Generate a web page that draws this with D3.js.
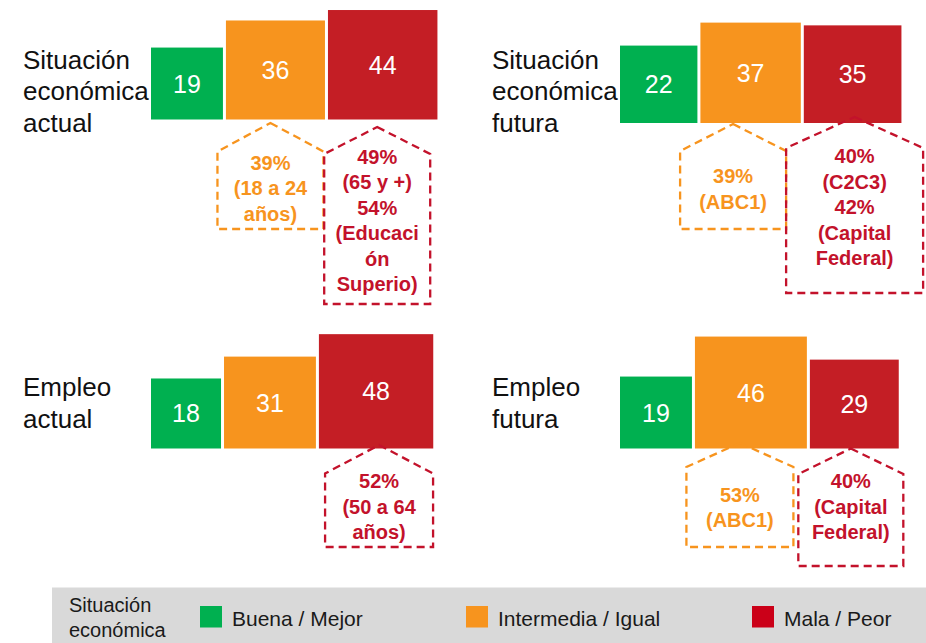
<!DOCTYPE html>
<html>
<head>
<meta charset="utf-8">
<script src="https://cdn.jsdelivr.net/npm/d3@7"></script>
<style>
  html, body { margin: 0; padding: 0; background: #ffffff; }
  svg { display: block; font-family: "Liberation Sans", Arial, Helvetica, sans-serif; }
</style>
</head>
<body>
<svg id="chart" width="926" height="643"></svg>
<script>
// ---------------- DATA ----------------
const categories = ["Buena / Mejor", "Intermedia / Igual", "Mala / Peor"];
const legendTitle = ["Situación", "económica"];

const panelNames = ["Situación económica actual", "Situación económica futura", "Empleo actual", "Empleo futura"];
const panelLabelLines = [
  ["Situación", "económica", "actual"],
  ["Situación", "económica", "futura"],
  ["Empleo", "actual"],
  ["Empleo", "futura"]
];

const valuesSituacionActual = [19, 36, 44];
const valuesSituacionFutura = [22, 37, 35];
const valuesEmpleoActual   = [18, 31, 48];
const valuesEmpleoFutura   = [19, 46, 29];

// callout texts per category (null = no callout)
const calloutsSituacionActual = [null, ["39%", "(18 a 24", "años)"], ["49%", "(65 y +)", "54%", "(Educaci", "ón", "Superio)"]];
const calloutsSituacionFutura = [null, ["39%", "(ABC1)"], ["40%", "(C2C3)", "42%", "(Capital", "Federal)"]];
const calloutsEmpleoActual   = [null, null, ["52%", "(50 a 64", "años)"]];
const calloutsEmpleoFutura   = [null, ["53%", "(ABC1)"], ["40%", "(Capital", "Federal)"]];

// ---------------- STYLE / LAYOUT ----------------
const barColors = ["#00B050", "#F7941E", "#C41E25"];
const legendColors = ["#00B050", "#F7941E", "#CB0018"];
const calloutColors = [null, "#F7941E", "#C3122B"];

const panelValues = [valuesSituacionActual, valuesSituacionFutura, valuesEmpleoActual, valuesEmpleoFutura];
const panelCallouts = [calloutsSituacionActual, calloutsSituacionFutura, calloutsEmpleoActual, calloutsEmpleoFutura];

const panelLayout = [
  { labelX: 23,  labelY: 68.5, barX: 151, base: 119.5 },
  { labelX: 492, labelY: 68.5, barX: 620, base: 123 },
  { labelX: 23,  labelY: 396,  barX: 151, base: 448.5 },
  { labelX: 492, labelY: 396,  barX: 620, base: 448.5 }
];
// callout shapes: offset of centre from bar centre, width, apex/shoulder/bottom offsets from baseline, first text baseline
const calloutLayout = {
  "0-1": { dx: -5,    w: 106, apex: 3.5,  shoulder: 32,   bottom: 109.5, text: 50 },
  "0-2": { dx: -5.5,  w: 106, apex: 7.5,  shoulder: 34.5, bottom: 184.5, text: 44 },
  "1-1": { dx: -17.5, w: 106, apex: 1,    shoulder: 28,   bottom: 106,   text: 60 },
  "1-2": { dx: 2,     w: 137, apex: -6,   shoulder: 25,   bottom: 170,   text: 40 },
  "2-2": { dx: 3,     w: 108, apex: -3.5, shoulder: 25,   bottom: 98.5,  text: 39.5 },
  "3-1": { dx: -11,   w: 107, apex: -5.5, shoulder: 18.5, bottom: 98.5,  text: 53 },
  "3-2": { dx: -3.5,  w: 105, apex: 0,    shoulder: 25.5, bottom: 117.5, text: 39.5 }
};
const gap = 3;

// side of each square: area proportional to value
const side = d3.scaleSqrt().domain([0, 50]).range([0, 116.7]);

const svg = d3.select("#chart");

panelValues.forEach((vals, p) => {
  const L = panelLayout[p];
  const g = svg.append("g").attr("class", "panel").attr("data-name", panelNames[p]);

  // label
  const lab = g.append("text")
    .attr("x", L.labelX).attr("y", L.labelY)
    .attr("font-size", 26).attr("fill", "#111");
  panelLabelLines[p].forEach((line, i) => {
    lab.append("tspan").attr("x", L.labelX).attr("y", L.labelY + i * 31.5).text(line);
  });

  // bar geometry
  let cursor = L.barX;
  const bars = vals.map((v, i) => {
    const s = side(v);
    const b = { v, i, x: cursor, s, y: L.base - s, cat: categories[i] };
    cursor += s + gap;
    return b;
  });

  g.selectAll("rect.bar").data(bars).enter().append("rect")
    .attr("class", "bar")
    .attr("x", d => d.x).attr("y", d => d.y)
    .attr("width", d => d.s).attr("height", d => d.s)
    .attr("fill", d => barColors[d.i]);

  g.selectAll("text.val").data(bars).enter().append("text")
    .attr("class", "val")
    .attr("x", d => d.x + d.s / 2)
    .attr("y", d => d.y + d.s / 2 + 9)
    .attr("text-anchor", "middle")
    .attr("font-size", 25).attr("fill", "#ffffff")
    .text(d => d.v);

  // callouts
  panelCallouts[p].forEach((lines, i) => {
    if (!lines) return;
    const C = calloutLayout[p + "-" + i];
    const b = bars[i];
    const cx = b.x + b.s / 2 + C.dx;
    const l = cx - C.w / 2, r = cx + C.w / 2;
    const pts = [
      [cx, L.base + C.apex],
      [r, L.base + C.shoulder],
      [r, L.base + C.bottom],
      [l, L.base + C.bottom],
      [l, L.base + C.shoulder]
    ];
    g.append("path")
      .attr("d", d3.line()(pts) + "Z")
      .attr("fill", "none")
      .attr("stroke", calloutColors[i])
      .attr("stroke-width", 2.3)
      .attr("stroke-dasharray", "8,5");
    const t = g.append("text")
      .attr("text-anchor", "middle")
      .attr("font-size", 20).attr("font-weight", "bold")
      .attr("fill", calloutColors[i]);
    lines.forEach((line, k) => {
      t.append("tspan").attr("x", cx).attr("y", L.base + C.text + k * 25.5).text(line);
    });
  });
});

// ---------------- LEGEND ----------------
const lg = svg.append("g").attr("class", "legend");
lg.append("rect").attr("x", 52).attr("y", 587.5).attr("width", 874).attr("height", 56).attr("fill", "#D9D9D9");
const lt = lg.append("text").attr("font-size", 20).attr("fill", "#1a1a1a");
legendTitle.forEach((line, i) => {
  lt.append("tspan").attr("x", 69).attr("y", 611.5 + i * 25).text(line);
});
const legendX = [200, 466, 752];
const items = lg.selectAll("g.item").data(categories).enter().append("g").attr("class", "item")
  .attr("transform", (d, i) => `translate(${legendX[i]},0)`);
items.append("rect").attr("x", 0).attr("y", 606).attr("width", 22).attr("height", 21.5)
  .attr("fill", (d, i) => legendColors[i]);
items.append("text").attr("x", 32).attr("y", 625.5).attr("font-size", 21).attr("fill", "#1a1a1a")
  .text(d => d);
</script>
</body>
</html>
